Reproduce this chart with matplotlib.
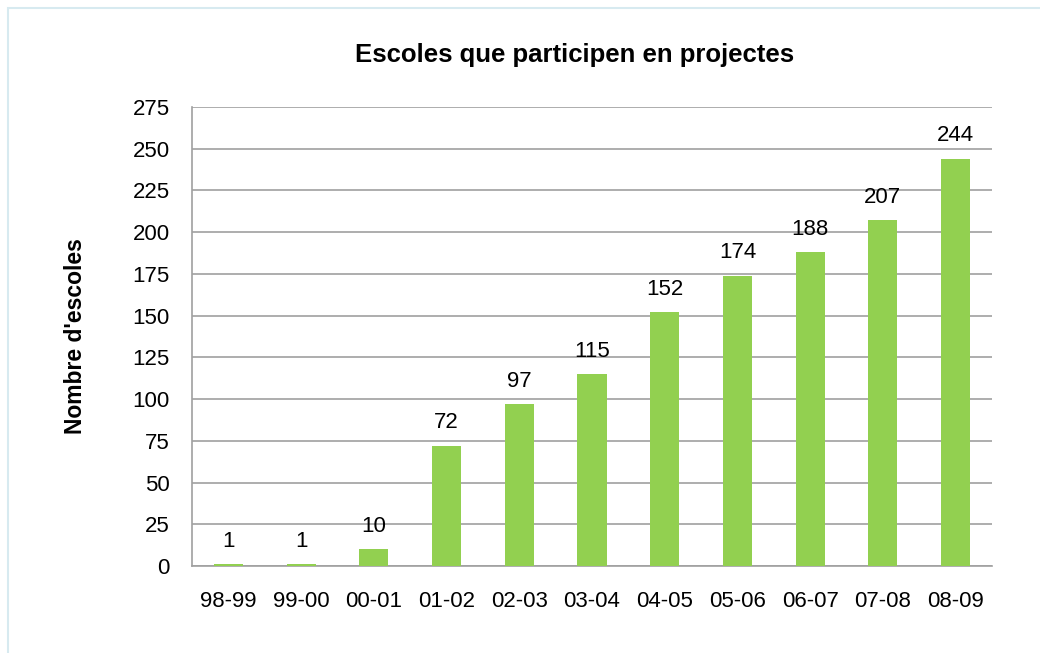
import matplotlib.pyplot as plt
from matplotlib.patches import Rectangle

plt.rcParams['font.family'] = ['Liberation Sans', 'DejaVu Sans']

# school years and number of schools taking part
cursos = ['98-99', '99-00', '00-01', '01-02', '02-03', '03-04',
          '04-05', '05-06', '06-07', '07-08', '08-09']
escoles = [1, 1, 10, 72, 97, 115, 152, 174, 188, 207, 244]
yticks = list(range(0, 276, 25))

fig = plt.figure(figsize=(10.4, 6.53), dpi=100)
ax = fig.add_axes([192 / 1040, 1 - 566 / 653, 800 / 1040, 459 / 653])

# light blue frame round the chart area
fig.patches.append(Rectangle((8 / 1040, -0.1), 1.2, 1 - 8 / 653 + 0.1,
                             transform=fig.transFigure, fill=False,
                             edgecolor='#d7eaf0', linewidth=1.5))

x = range(len(cursos))
bars = ax.bar(x, escoles, width=0.4, color='#92D050', zorder=3)

for xi, v in zip(x, escoles):
    ax.annotate(str(v), (xi, v), xytext=(0, 9), textcoords='offset points',
                ha='center', va='bottom', fontsize=16)

ax.set_xlim(-0.5, len(cursos) - 0.5)
ax.set_ylim(0, 275)
ax.set_yticks(yticks)
ax.set_xticks(list(x))
ax.set_xticklabels(cursos)
ax.tick_params(axis='y', length=0, pad=16, labelsize=16)
ax.tick_params(axis='x', length=0, pad=18, labelsize=16)
ax.grid(axis='y', color='#a0a0a0', linewidth=1.2, zorder=0)

for s in ['top', 'right']:
    ax.spines[s].set_visible(False)
for s in ['left', 'bottom']:
    ax.spines[s].set_color('#a0a0a0')
    ax.spines[s].set_linewidth(1.2)

ax.set_ylabel("Nombre d'escoles", fontsize=16.5, fontweight='bold', labelpad=33)
fig.text(575 / 1040, 1 - 55 / 653, 'Escoles que participen en projectes',
         ha='center', va='center', fontsize=18.5, fontweight='bold')

fig.savefig('out.png', dpi=100)
